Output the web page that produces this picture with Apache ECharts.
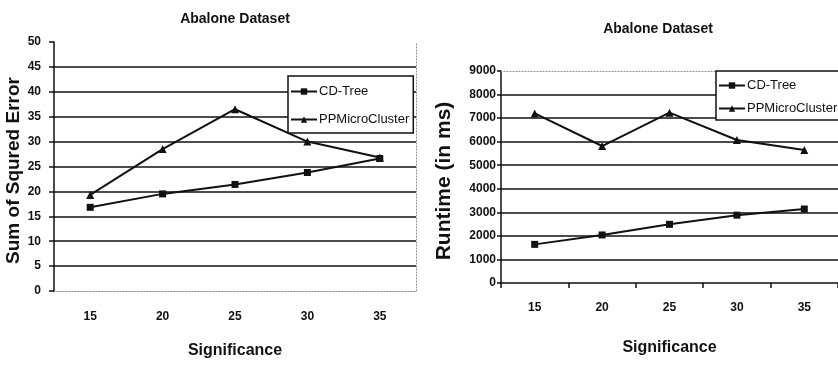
<!DOCTYPE html>
<html>
<head>
<meta charset="utf-8">
<script src="https://cdn.jsdelivr.net/npm/echarts@6/dist/echarts.min.js"></script>
<style>
  html, body { margin: 0; padding: 0; background: #fff; }
  #chart { width: 838px; height: 367px; }
</style>
</head>
<body>
<div id="chart"></div>
<script>
// values
const significance = ["15", "20", "25", "30", "35"];
const seriesNames = ["CD-Tree", "PPMicroCluster"];

const sseCdTree = [16.8, 19.5, 21.4, 23.8, 26.6];
const ssePPMicro = [19.3, 28.5, 36.5, 30.0, 26.8];

const runtimeCdTree = [1640, 2040, 2490, 2880, 3140];
const runtimePPMicro = [7200, 5815, 7230, 6070, 5645];

const FONT = "Liberation Sans, Arial, sans-serif";
const INK = "#111";

const chart = echarts.init(document.getElementById("chart"), null, { renderer: "canvas" });

function lineSeries(name, data, idx, symbol, size) {
  return {
    name,
    type: "line",
    xAxisIndex: idx,
    yAxisIndex: idx,
    data,
    symbol,
    symbolSize: size,
    animation: false,
    lineStyle: { color: INK, width: 2 },
    itemStyle: { color: INK },
  };
}

function legendFor(left, top, itemGap, padding) {
  return {
    data: seriesNames,
    orient: "vertical",
    left,
    top,
    itemGap,
    itemWidth: 26,
    itemHeight: 8,
    padding,
    backgroundColor: "#fff",
    borderColor: INK,
    borderWidth: 1.5,
    borderRadius: 0,
    selectedMode: false,
    textStyle: { fontFamily: FONT, fontSize: 13, color: INK, padding: [0, 0, 0, -3] },
  };
}

const dotted = { color: "#888", width: 1, type: [1, 2] };
const tickFont = { fontFamily: FONT, fontSize: 12, fontWeight: "bold", color: INK };
const nameFont = { fontFamily: FONT, fontSize: 16, fontWeight: "bold", color: INK };

chart.setOption({
  backgroundColor: "#fff",
  animation: false,
  title: [
    {
      text: "Abalone Dataset",
      left: 230,
      top: 7,
      textAlign: "center",
      textStyle: { fontFamily: FONT, fontSize: 14, fontWeight: "bold", color: INK },
    },
    {
      text: "Abalone Dataset",
      left: 653,
      top: 17,
      textAlign: "center",
      textStyle: { fontFamily: FONT, fontSize: 14, fontWeight: "bold", color: INK },
    },
  ],
  legend: [
    legendFor(288, 76, 15, [9, 4, 7, 2]),
    legendFor(716, 71, 10, [8, 6, 5, 2]),
  ],
  grid: [
    { left: 54, top: 42, width: 362, height: 249 },
    { left: 501, top: 71, width: 343, height: 212 },
  ],
  xAxis: [
    {
      gridIndex: 0,
      type: "category",
      data: significance,
      name: "Significance",
      nameLocation: "middle",
      nameGap: 52,
      nameTextStyle: nameFont,
      axisLine: { lineStyle: dotted },
      axisTick: { show: false },
      axisLabel: Object.assign({ margin: 20 }, tickFont),
    },
    {
      gridIndex: 1,
      type: "category",
      data: significance,
      name: "Significance",
      nameLocation: "middle",
      nameGap: 57,
      nameTextStyle: nameFont,
      axisLine: { lineStyle: { color: INK, width: 1.5 } },
      axisTick: { show: true, length: 5, lineStyle: { color: INK, width: 1.5 } },
      axisLabel: Object.assign({ margin: 19 }, tickFont),
    },
    // dotted top frame lines
    {
      gridIndex: 0,
      type: "category",
      data: significance,
      position: "top",
      axisLine: { lineStyle: dotted },
      axisTick: { show: false },
      axisLabel: { show: false },
    },
    {
      gridIndex: 1,
      type: "category",
      data: significance,
      position: "top",
      axisLine: { lineStyle: dotted },
      axisTick: { show: false },
      axisLabel: { show: false },
    },
  ],
  yAxis: [
    {
      gridIndex: 0,
      type: "value",
      min: 0,
      max: 50,
      interval: 5,
      name: "Sum of Squred Error",
      nameLocation: "middle",
      nameGap: 29,
      nameTextStyle: { fontFamily: FONT, fontSize: 19, fontWeight: "bold", color: INK, padding: [0, 8, 0, 0] },
      axisLine: { show: true, lineStyle: { color: INK, width: 1.5 } },
      axisTick: { show: true, length: 5, lineStyle: { color: INK, width: 1.5 } },
      axisLabel: Object.assign({ margin: 13 }, tickFont),
      splitLine: { show: true, showMinLine: false, showMaxLine: false, lineStyle: { color: INK, width: 1.6 } },
    },
    {
      gridIndex: 1,
      type: "value",
      min: 0,
      max: 9000,
      interval: 1000,
      name: "Runtime (in ms)",
      nameLocation: "middle",
      nameGap: 46,
      nameTextStyle: { fontFamily: FONT, fontSize: 21, fontWeight: "bold", color: INK, padding: [0, 8, 0, 0] },
      axisLine: { show: true, lineStyle: { color: INK, width: 1.5 } },
      axisTick: { show: true, length: 4, lineStyle: { color: INK, width: 1.5 } },
      axisLabel: Object.assign({ margin: 5, formatter: (v) => String(v) }, tickFont),
      splitLine: { show: true, showMinLine: false, showMaxLine: false, lineStyle: { color: INK, width: 1.6 } },
    },
    // dotted right frame line for the left chart
    {
      gridIndex: 0,
      type: "value",
      min: 0,
      max: 50,
      interval: 5,
      position: "right",
      axisLine: { show: true, lineStyle: dotted },
      axisTick: { show: false },
      axisLabel: { show: false },
      splitLine: { show: false },
    },
  ],
  series: [
    lineSeries(seriesNames[0], sseCdTree, 0, "rect", 7),
    lineSeries(seriesNames[1], ssePPMicro, 0, "triangle", 8),
    lineSeries(seriesNames[0], runtimeCdTree, 1, "rect", 7),
    lineSeries(seriesNames[1], runtimePPMicro, 1, "triangle", 8),
  ],
});
</script>
</body>
</html>
